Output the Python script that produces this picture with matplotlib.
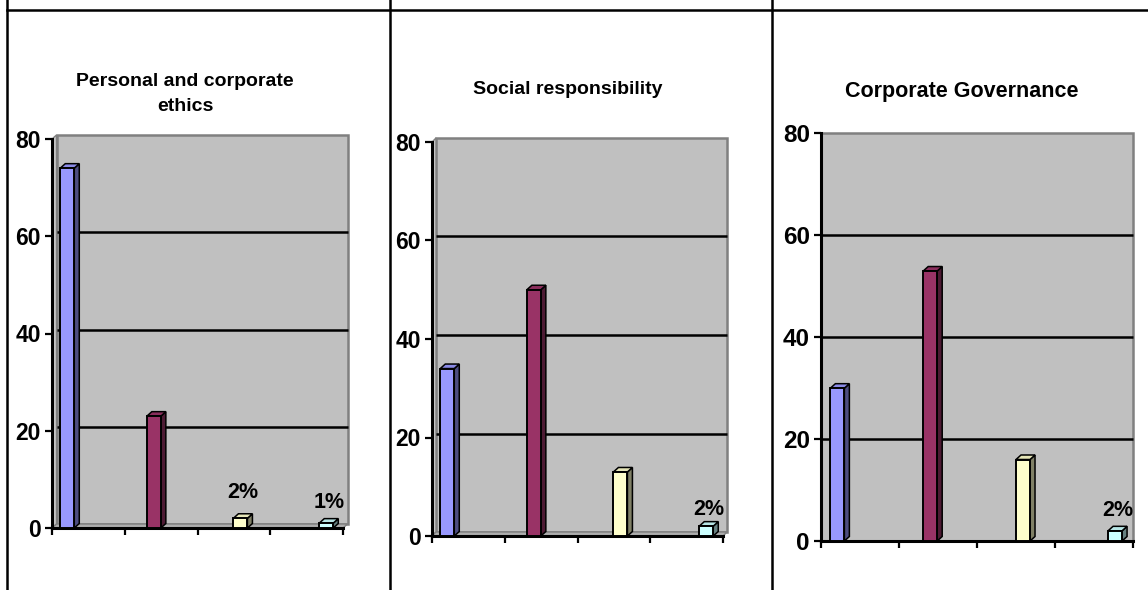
import matplotlib
matplotlib.use("Agg")
import matplotlib.pyplot as plt
from matplotlib.patches import Rectangle, Polygon
from matplotlib.lines import Line2D

plt.rcParams['font.family'] = ['Liberation Sans', 'DejaVu Sans']

# ---- data -------------------------------------------------------------
titles = [["Personal and corporate", "ethics"],
          ["Social responsibility"],
          ["Corporate Governance"]]
ethics = [74, 23, 2, 1]
social = [34, 50, 13, 2]
governance = [30, 53, 16, 2]
series = [ethics, social, governance]
labelled = [[2, 3], [3], [3]]          # bars that carry a percentage label
yticks = [0, 20, 40, 60, 80]
bar_colors = ['#9999FF', '#993366', '#FFFFCC', '#CCFFFF']
side_colors = ['#4D4D80', '#4D1A33', '#808066', '#668080']
top_colors = ['#8A8AE6', '#8A2E5C', '#E6E6B8', '#B8E6E6']

# ---- layout (pixels) --------------------------------------------------
W, H, DPI = 1148, 590, 100
panels = [
    dict(left=52, right=343, y0=528, ytop=139, wall=(4.5, 4.0),
         title_x=185, title_y=[85.5, 111], title_fs=14, tick_fs=16.5,
         label_gap=[20, 15]),
    dict(left=432, right=723, y0=536, ytop=142, wall=(4.0, 4.0),
         title_x=568, title_y=[94], title_fs=14, tick_fs=16.5,
         label_gap=[11]),
    dict(left=821, right=1133, y0=541, ytop=133.5, wall=(0.0, 0.0),
         title_x=962, title_y=[97.5], title_fs=15.5, tick_fs=17.5,
         label_gap=[15]),
]
bar_pos = [0.21, 1.40, 2.59, 3.77]
bar_w_px = 14
depth_px = (5.0, 4.5)

fig = plt.figure(figsize=(W / DPI, H / DPI), dpi=DPI)
fig.patch.set_facecolor('white')

# table rules around the three charts
tl = dict(color='black', lw=1.8, transform=fig.transFigure)
fig.add_artist(Line2D([7 / W, 1], [1 - 10 / H, 1 - 10 / H], **tl))
for xv in (7, 389.5, 772):
    fig.add_artist(Line2D([xv / W, xv / W], [0, 1], **tl))

for p, values, lab, title in zip(panels, series, labelled, titles):
    l, r, y0, yt = p['left'], p['right'], p['y0'], p['ytop']
    ax = fig.add_axes([l / W, (H - y0) / H, (r - l) / W, (y0 - yt) / H])
    ax.set_xlim(0, 4)
    ax.set_ylim(0, 80)
    ax.set_facecolor('none')
    sx = 4.0 / (r - l)
    sy = 80.0 / (y0 - yt)
    wdx, wdy = p['wall'][0] * sx, p['wall'][1] * sy

    # back wall, side wall and floor
    ax.add_patch(Rectangle((wdx, wdy), 4, 80, facecolor='#C0C0C0',
                           edgecolor='#808080', lw=1.8, zorder=0.5,
                           clip_on=False))
    if wdx > 0:
        ax.add_patch(Polygon([(0, 0), (0, 80), (wdx, 80 + wdy), (wdx, wdy)],
                             closed=True, facecolor='#CACACA',
                             edgecolor='#808080', lw=1.0, zorder=0.6,
                             clip_on=False))
        ax.add_patch(Polygon([(0, 0), (4, 0), (4 + wdx, wdy), (wdx, wdy)],
                             closed=True, facecolor='#ADADAD',
                             edgecolor='#808080', lw=1.0, zorder=0.6,
                             clip_on=False))
    for v in yticks[1:-1]:
        ax.plot([wdx, 4 + wdx], [v + wdy, v + wdy], color='black', lw=1.8,
                zorder=0.8, clip_on=False, solid_capstyle='butt')

    # 3-D columns
    bw = bar_w_px * sx
    ddx, ddy = depth_px[0] * sx, depth_px[1] * sy
    ax.bar(bar_pos, values, width=bw, color=bar_colors, edgecolor='black',
           linewidth=1.4, zorder=3)
    for x, v, sc, tc in zip(bar_pos, values, side_colors, top_colors):
        xr, xl = x + bw / 2, x - bw / 2
        ax.add_patch(Polygon([(xr, 0), (xr + ddx, ddy), (xr + ddx, v + ddy),
                              (xr, v)], closed=True, facecolor=sc,
                             edgecolor='black', lw=1.1, zorder=2.9,
                             clip_on=False))
        ax.add_patch(Polygon([(xl, v), (xr, v), (xr + ddx, v + ddy),
                              (xl + ddx, v + ddy)], closed=True,
                             facecolor=tc, edgecolor='black', lw=1.1,
                             zorder=2.9, clip_on=False))

    for k, gap in zip(lab, p['label_gap']):
        v = values[k]
        ax.annotate(f"{v}%", xy=(bar_pos[k] + ddx / 2, v),
                    xytext=(0, gap * 72 / DPI), textcoords='offset points',
                    ha='center', va='baseline', fontsize=15.5,
                    fontweight='bold', zorder=5)

    # axes
    for side in ('top', 'right'):
        ax.spines[side].set_visible(False)
    for side in ('left', 'bottom'):
        ax.spines[side].set_linewidth(2.2)
        ax.spines[side].set_zorder(2.5)
    ax.set_yticks(yticks)
    ax.set_yticklabels([str(t) for t in yticks], fontsize=p['tick_fs'],
                       fontweight='bold')
    ax.set_xticks([0, 1, 2, 3, 4])
    ax.set_xticklabels([])
    ax.tick_params(axis='both', direction='out', length=5, width=1.6,
                   pad=3, colors='black')

    for line, ty in zip(title, p['title_y']):
        fig.text(p['title_x'] / W, 1 - ty / H, line, ha='center',
                 va='baseline', fontsize=p['title_fs'], fontweight='bold')

fig.savefig('out.png', dpi=DPI, facecolor='white')
